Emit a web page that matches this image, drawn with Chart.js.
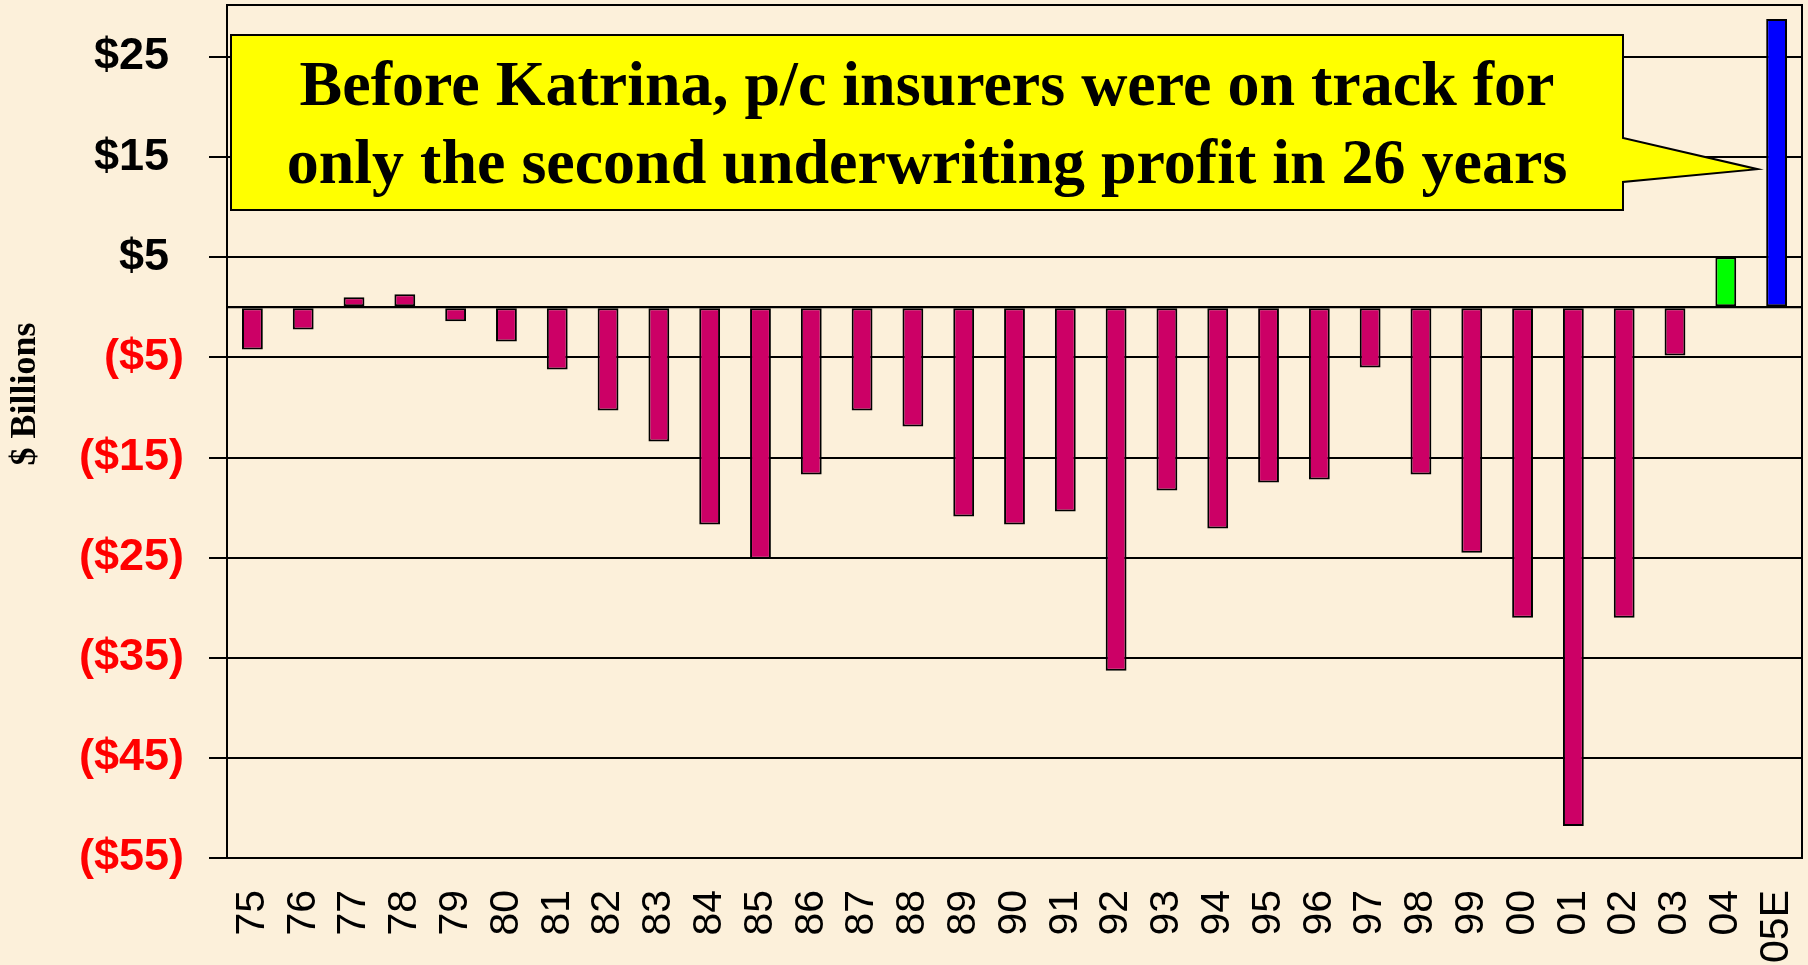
<!DOCTYPE html>
<html>
<head>
<meta charset="utf-8">
<script src="https://cdn.jsdelivr.net/npm/chart.js@4/dist/chart.umd.min.js"></script>
<style>
  html, body { margin: 0; padding: 0; background: #fcf0da; }
  #wrap { width: 1808px; height: 965px; }
</style>
</head>
<body>
<div id="wrap"><canvas id="chart" width="1808" height="965"></canvas></div>
<script>
const years = ["75", "76", "77", "78", "79", "80", "81", "82", "83", "84", "85", "86", "87", "88", "89", "90",
  "91", "92", "93", "94", "95", "96", "97", "98", "99", "00", "01", "02", "03", "04", "05E"];
const results = [-4.2, -2.2, 1.0, 1.3, -1.4, -3.4, -6.2, -10.3, -13.4, -21.7, -25.1, -16.7, -10.3, -11.9, -20.9, -21.7,
  -20.4, -36.3, -18.3, -22.1, -17.5, -17.2, -6.0, -16.7, -24.5, -31.0, -51.8, -31.0, -4.8, 5.0, 28.8];
const yTicks = [-55, -45, -35, -25, -15, -5, 0, 5, 15, 25];
const calloutLines = ["Before Katrina, p/c insurers were on track for", "only the second underwriting profit in 26 years"];
const yTitle = "$ Billions";

const barColors = years.map((y, i) => i === years.length - 1 ? "#0000ff" : (i === years.length - 2 ? "#00ff00" : "#cc0066"));

// Excel style "$#,##0_);($#,##0)": positives keep room for the ")"
function money(v) {
  if (v === 0) return "";
  return v < 0 ? "($" + Math.abs(v) + ")" : "$" + v + "\u2004";
}

const extras = {
  id: "extras",
  afterDatasetsDraw(chart) {
    const { ctx, chartArea: a, scales } = chart;
    ctx.save();
    // zero line
    const y0 = scales.y.getPixelForValue(0);
    ctx.strokeStyle = "#000";
    ctx.lineWidth = 2;
    ctx.beginPath();
    ctx.moveTo(a.left, y0);
    ctx.lineTo(a.right, y0);
    ctx.stroke();
    // frame
    ctx.strokeRect(a.left, a.top, a.right - a.left, a.bottom - a.top);

    // callout box pointing at the last bar
    const tipX = scales.x.getPixelForValue(years.length - 1) - 19;
    const tipY = scales.y.getPixelForValue(13.8);
    const L = 231, T = 35, R = 1623, B = 210;
    ctx.beginPath();
    ctx.moveTo(L, T);
    ctx.lineTo(R, T);
    ctx.lineTo(R, 138);
    ctx.lineTo(tipX, tipY);
    ctx.lineTo(R, 182);
    ctx.lineTo(R, B);
    ctx.lineTo(L, B);
    ctx.closePath();
    ctx.fillStyle = "#ffff00";
    ctx.fill();
    ctx.lineWidth = 2;
    ctx.strokeStyle = "#000";
    ctx.stroke();
    ctx.fillStyle = "#000";
    ctx.font = "bold 64px 'Liberation Serif', 'Times New Roman', serif";
    ctx.textAlign = "center";
    ctx.textBaseline = "middle";
    ctx.fillText(calloutLines[0], 927, 88);
    ctx.fillText(calloutLines[1], 927, 166);

    // axis title
    ctx.translate(26, 394);
    ctx.rotate(-Math.PI / 2);
    ctx.font = "bold 36px 'Liberation Serif', 'Times New Roman', serif";
    ctx.fillText(yTitle, 0, 0);
    ctx.restore();
  }
};

new Chart(document.getElementById("chart"), {
  type: "bar",
  data: {
    labels: years,
    datasets: [{
      data: results,
      backgroundColor: barColors,
      borderColor: "#000",
      borderWidth: 2,
      borderSkipped: false,
      categoryPercentage: 1,
      barPercentage: 0.41
    }]
  },
  options: {
    responsive: false,
    animation: false,
    layout: { padding: { top: 5, right: 6, left: 0, bottom: 0 } },
    plugins: { legend: { display: false }, tooltip: { enabled: false } },
    scales: {
      x: {
        grid: { display: false },
        border: { display: true, color: "#000", width: 2 },
        ticks: {
          minRotation: 90,
          maxRotation: 90,
          autoSkip: false,
          padding: 24,
          color: "#000",
          font: { family: "'Liberation Sans', Arial, sans-serif", size: 41 }
        },
        afterFit(scale) {
          scale.height = 107;
          scale.paddingLeft = 0;
          scale.paddingRight = 0;
        }
      },
      y: {
        min: -55,
        max: 30.2,
        afterBuildTicks(scale) { scale.ticks = yTicks.map(v => ({ value: v })); },
        grid: {
          color: "#000",
          lineWidth: 2,
          tickLength: 18,
          tickColor: ctx => (ctx.tick && ctx.tick.value === 0) ? "rgba(0,0,0,0)" : "#000"
        },
        border: { display: true, color: "#000", width: 2 },
        ticks: {
          padding: 25,
          color: ctx => ctx.tick.value < 0 ? "#ff0000" : "#000",
          font: { family: "'Liberation Sans', Arial, sans-serif", size: 45, weight: "bold" },
          callback: v => money(v)
        },
        afterFit(scale) {
          scale.width = 227;
          scale.paddingTop = 0;
          scale.paddingBottom = 0;
        }
      }
    }
  },
  plugins: [extras]
});
</script>
</body>
</html>
